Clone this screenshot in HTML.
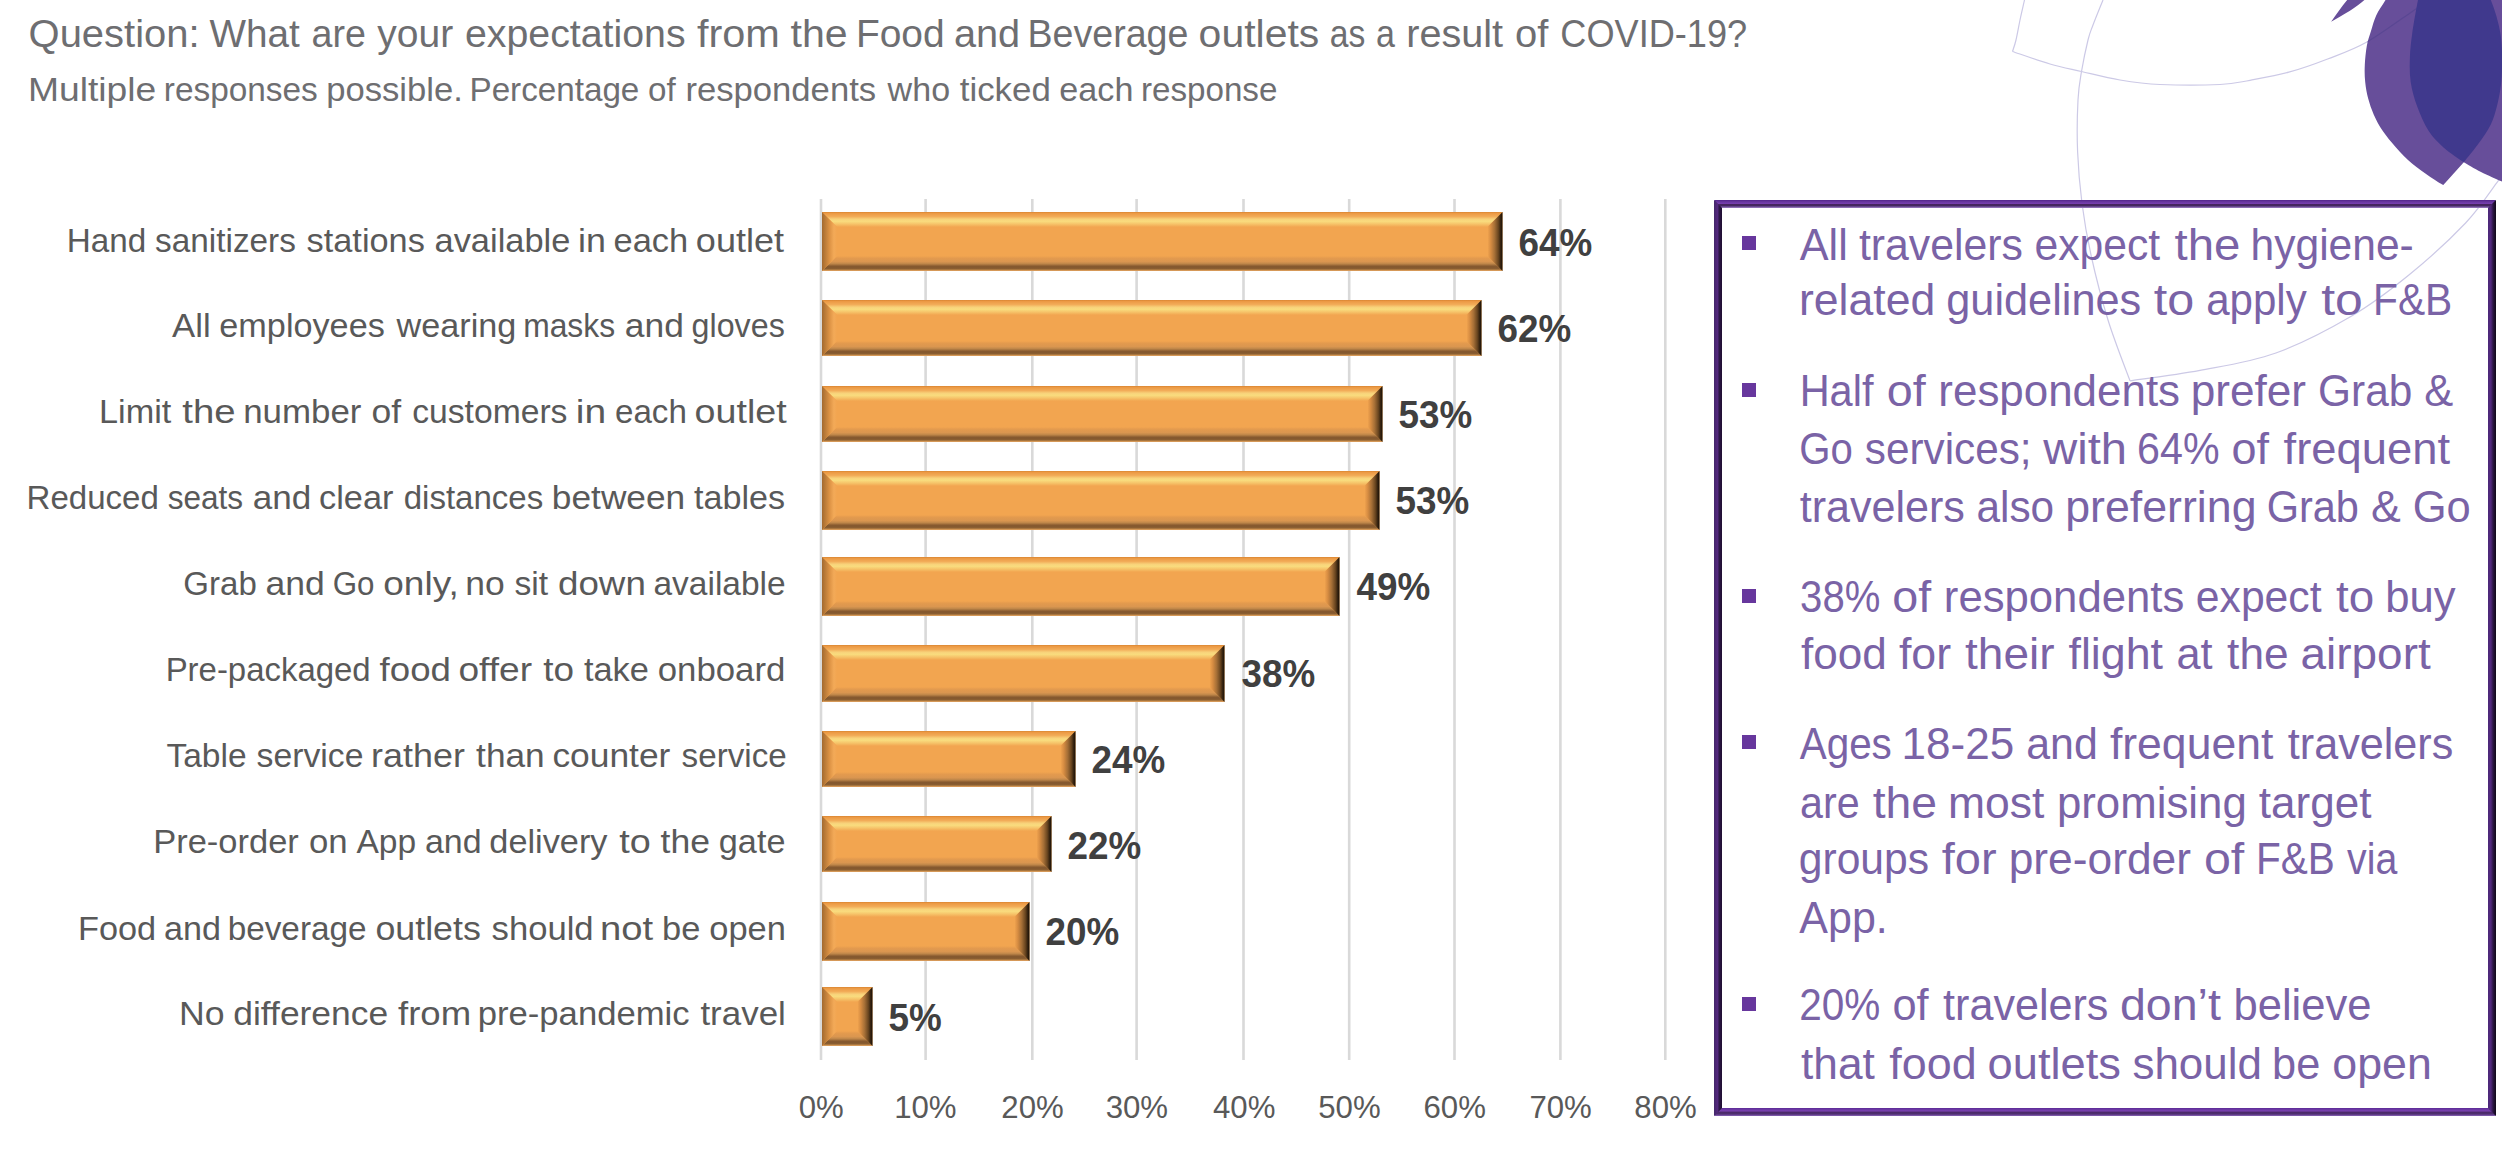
<!DOCTYPE html>
<html><head><meta charset="utf-8"><title>F&amp;B expectations</title>
<style>
html,body{margin:0;padding:0;background:#fff;width:2502px;height:1160px;overflow:hidden}
svg{display:block;font-family:"Liberation Sans",sans-serif}
</style></head><body>
<svg width="2502" height="1160" viewBox="0 0 2502 1160">
<defs>
<linearGradient id="gTop" x1="0" y1="0" x2="0" y2="1">
 <stop offset="0" stop-color="#D98632"/><stop offset="0.1" stop-color="#EC9A45"/><stop offset="0.3" stop-color="#F2AC58"/>
 <stop offset="0.48" stop-color="#F8D27A"/><stop offset="0.62" stop-color="#F9DC7E"/><stop offset="0.8" stop-color="#F6C46A"/><stop offset="1" stop-color="#F2A550"/></linearGradient>
<linearGradient id="gBot" x1="0" y1="1" x2="0" y2="0">
 <stop offset="0" stop-color="#F0AD68"/><stop offset="0.08" stop-color="#B07C42"/><stop offset="0.18" stop-color="#84592F"/>
 <stop offset="0.32" stop-color="#86592F"/><stop offset="0.48" stop-color="#BE8649"/><stop offset="0.62" stop-color="#DA9650"/><stop offset="0.85" stop-color="#E39A4E"/><stop offset="1" stop-color="#F2A550"/></linearGradient>
<linearGradient id="gLeft" x1="0" y1="0" x2="1" y2="0">
 <stop offset="0" stop-color="#A36A30"/><stop offset="0.2" stop-color="#B97A38"/><stop offset="0.5" stop-color="#DC9244"/>
 <stop offset="0.8" stop-color="#F3AA58"/><stop offset="1" stop-color="#F2A550"/></linearGradient>
<linearGradient id="gRight" x1="1" y1="0" x2="0" y2="0">
 <stop offset="0" stop-color="#1E1206"/><stop offset="0.1" stop-color="#2C1C0C"/><stop offset="0.28" stop-color="#6A4620"/>
 <stop offset="0.52" stop-color="#A46E36"/><stop offset="0.78" stop-color="#D68C42"/><stop offset="1" stop-color="#F2A550"/></linearGradient>
<linearGradient id="fTop" x1="0" y1="0" x2="0" y2="1">
 <stop offset="0" stop-color="#52248A"/><stop offset="0.25" stop-color="#6A38A0"/><stop offset="0.45" stop-color="#763DAE"/>
 <stop offset="0.57" stop-color="#42235A"/><stop offset="0.7" stop-color="#45285F"/><stop offset="0.85" stop-color="#6E4E98"/><stop offset="1" stop-color="#A585C8"/></linearGradient>
<linearGradient id="fBot" x1="0" y1="0" x2="0" y2="1">
 <stop offset="0" stop-color="#5C2C96"/><stop offset="0.35" stop-color="#7840AE"/><stop offset="0.6" stop-color="#44265E"/>
 <stop offset="0.8" stop-color="#5A3880"/><stop offset="1" stop-color="#8A64B8"/></linearGradient>
<linearGradient id="fLeft" x1="0" y1="0" x2="1" y2="0">
 <stop offset="0" stop-color="#44286A"/><stop offset="0.45" stop-color="#54297E"/><stop offset="0.65" stop-color="#2E1848"/>
 <stop offset="1" stop-color="#1E0E30"/></linearGradient>
<linearGradient id="fRight" x1="0" y1="0" x2="1" y2="0">
 <stop offset="0" stop-color="#4A2878"/><stop offset="0.35" stop-color="#52297E"/><stop offset="0.65" stop-color="#2A1540"/>
 <stop offset="1" stop-color="#100818"/></linearGradient>
</defs>
<rect width="2502" height="1160" fill="#fff"/>

<path d="M2024.5,0.0 C2023.8,3.3 2021.4,13.3 2020.0,20.0 C2018.6,26.7 2017.2,34.8 2016.0,40.0 C2014.8,45.2 2013.1,49.6 2012.5,51.5" stroke="#CCC9E6" stroke-width="1.2" fill="none"/>
<path d="M2012.5,51.5 C2018.8,53.6 2038.5,60.7 2050.0,64.0 C2061.5,67.3 2069.8,68.8 2081.5,71.5 C2093.2,74.2 2106.9,77.8 2120.0,80.0 C2133.1,82.2 2143.3,83.8 2160.0,84.5 C2176.7,85.2 2205.0,85.2 2220.0,84.5 C2235.0,83.8 2238.5,82.3 2250.0,80.3 C2261.5,78.2 2275.9,75.8 2288.8,72.2 C2301.7,68.7 2314.7,64.0 2327.6,59.0 C2340.5,54.0 2352.2,50.3 2366.4,42.3 C2380.6,34.3 2402.4,18.1 2413.0,10.9 C2423.6,3.7 2427.2,1.0 2430.0,-1.0" stroke="#CCC9E6" stroke-width="1.2" fill="none"/>
<path d="M2103.0,0.0 C2101.3,4.2 2095.5,18.3 2093.0,25.0 C2090.5,31.7 2089.9,32.2 2088.0,40.0 C2086.1,47.8 2083.2,61.5 2081.5,71.5 C2079.8,81.5 2078.7,86.6 2078.0,100.0 C2077.3,113.4 2076.9,134.6 2077.6,151.8 C2078.3,169.1 2079.8,186.3 2082.0,203.5 C2084.2,220.7 2086.7,235.6 2091.0,255.0 C2095.3,274.4 2101.5,299.0 2108.0,320.0 C2114.5,341.0 2126.3,370.7 2130.0,380.8" stroke="#CCC9E6" stroke-width="1.2" fill="none"/>
<path d="M2130.0,380.8 C2141.7,379.1 2175.7,375.0 2200.0,370.4 C2224.3,365.8 2250.6,362.1 2275.9,353.0 C2301.2,343.9 2329.6,328.9 2351.7,316.0 C2373.8,303.1 2389.6,290.8 2408.6,275.3 C2427.6,259.8 2450.7,238.7 2465.6,223.0 C2480.5,207.3 2491.4,189.7 2497.8,181.4 C2504.2,173.1 2503.0,174.4 2504.0,173.0" stroke="#CCC9E6" stroke-width="1.2" fill="none"/>
<path d="M2395.0,-16.0 C2393.4,-13.3 2388.6,-5.2 2385.5,0.0 C2382.4,5.2 2378.6,10.3 2376.2,15.5 C2373.8,20.7 2372.6,25.9 2371.0,31.0 C2369.4,36.1 2367.8,40.3 2366.8,46.0 C2365.8,51.7 2365.1,59.0 2364.8,65.0 C2364.5,71.0 2364.6,76.4 2365.2,81.9 C2365.8,87.5 2366.7,92.8 2368.1,98.3 C2369.5,103.8 2371.4,109.2 2373.8,114.7 C2376.2,120.2 2379.1,125.5 2382.8,131.0 C2386.5,136.4 2391.1,141.9 2396.0,147.4 C2400.9,152.9 2406.6,158.9 2412.3,163.8 C2418.0,168.7 2425.1,173.4 2430.3,176.9 C2435.5,180.4 2441.1,183.7 2443.3,185.0 L2463.8,162.2 C2466.7,163.8 2474.5,168.7 2481.0,172.0 C2487.5,175.3 2499.3,180.3 2503.0,182.0 L2503,-16 Z" fill="#674E9A"/>
<clipPath id="lpc"><path d="M2395.0,-16.0 C2393.4,-13.3 2388.6,-5.2 2385.5,0.0 C2382.4,5.2 2378.6,10.3 2376.2,15.5 C2373.8,20.7 2372.6,25.9 2371.0,31.0 C2369.4,36.1 2367.8,40.3 2366.8,46.0 C2365.8,51.7 2365.1,59.0 2364.8,65.0 C2364.5,71.0 2364.6,76.4 2365.2,81.9 C2365.8,87.5 2366.7,92.8 2368.1,98.3 C2369.5,103.8 2371.4,109.2 2373.8,114.7 C2376.2,120.2 2379.1,125.5 2382.8,131.0 C2386.5,136.4 2391.1,141.9 2396.0,147.4 C2400.9,152.9 2406.6,158.9 2412.3,163.8 C2418.0,168.7 2425.1,173.4 2430.3,176.9 C2435.5,180.4 2441.1,183.7 2443.3,185.0 L2463.8,162.2 C2466.7,163.8 2474.5,168.7 2481.0,172.0 C2487.5,175.3 2499.3,180.3 2503.0,182.0 L2503,-16 Z"/></clipPath>
<path d="M2012.5,51.5 C2018.8,53.6 2038.5,60.7 2050.0,64.0 C2061.5,67.3 2069.8,68.8 2081.5,71.5 C2093.2,74.2 2106.9,77.8 2120.0,80.0 C2133.1,82.2 2143.3,83.8 2160.0,84.5 C2176.7,85.2 2205.0,85.2 2220.0,84.5 C2235.0,83.8 2238.5,82.3 2250.0,80.3 C2261.5,78.2 2275.9,75.8 2288.8,72.2 C2301.7,68.7 2314.7,64.0 2327.6,59.0 C2340.5,54.0 2352.2,50.3 2366.4,42.3 C2380.6,34.3 2402.4,18.1 2413.0,10.9 C2423.6,3.7 2427.2,1.0 2430.0,-1.0" stroke="#5A4793" stroke-width="1.2" fill="none" clip-path="url(#lpc)"/>
<path d="M2422.0,-16.4 C2421.3,-13.7 2419.6,-8.2 2418.0,0.0 C2416.4,8.2 2413.7,23.2 2412.3,32.8 C2411.0,42.3 2410.2,49.1 2409.9,57.3 C2409.6,65.5 2409.5,73.7 2410.7,81.9 C2411.9,90.1 2414.2,98.3 2417.2,106.5 C2420.2,114.7 2424.3,124.2 2428.7,131.0 C2433.1,137.8 2437.7,142.2 2443.5,147.4 C2449.3,152.6 2460.4,159.7 2463.8,162.2 C2466.4,158.9 2474.8,148.8 2479.3,142.5 C2483.8,136.2 2487.8,130.8 2490.8,124.5 C2493.8,118.2 2495.6,111.3 2497.3,104.8 C2499.0,98.2 2500.1,91.2 2500.9,85.2 C2501.7,79.2 2501.8,74.8 2502.0,68.8 C2502.2,62.8 2502.2,55.1 2501.9,49.1 C2501.6,43.1 2501.2,38.2 2500.3,32.8 C2499.4,27.3 2498.1,21.9 2496.5,16.4 C2494.9,10.9 2493.1,5.5 2490.8,0.0 C2488.6,-5.5 2484.3,-13.7 2483.0,-16.4 Z" fill="#40398D"/>
<path d="M2331.1,21.8 C2336.5,14 2342,6 2348,-1 L2365.5,-1 C2357,7 2345,14 2331.1,21.8 Z" fill="#674E9A"/>

<rect x="819.70" y="199" width="2.6" height="861" fill="#D9D9D9"/><rect x="924.30" y="199" width="2.6" height="861" fill="#D9D9D9"/><rect x="1031.00" y="199" width="2.6" height="861" fill="#D9D9D9"/><rect x="1135.30" y="199" width="2.6" height="861" fill="#D9D9D9"/><rect x="1242.20" y="199" width="2.6" height="861" fill="#D9D9D9"/><rect x="1347.90" y="199" width="2.6" height="861" fill="#D9D9D9"/><rect x="1453.20" y="199" width="2.6" height="861" fill="#D9D9D9"/><rect x="1559.10" y="199" width="2.6" height="861" fill="#D9D9D9"/><rect x="1664.00" y="199" width="2.6" height="861" fill="#D9D9D9"/>
<g>
<rect x="822" y="212" width="680.5" height="59" fill="#F2A550"/>
<polygon points="822,212 1502.5,212 1487.5,227 837,227" fill="url(#gTop)"/>
<polygon points="822,271 1502.5,271 1487.5,256 837,256" fill="url(#gBot)"/>
<polygon points="822,212 837,227 837,256 822,271" fill="url(#gLeft)"/>
<polygon points="1502.5,212 1487.5,227 1487.5,256 1502.5,271" fill="url(#gRight)"/>
</g><g>
<rect x="822" y="300" width="659.5" height="56" fill="#F2A550"/>
<polygon points="822,300 1481.5,300 1466.5,315 837,315" fill="url(#gTop)"/>
<polygon points="822,356 1481.5,356 1466.5,341 837,341" fill="url(#gBot)"/>
<polygon points="822,300 837,315 837,341 822,356" fill="url(#gLeft)"/>
<polygon points="1481.5,300 1466.5,315 1466.5,341 1481.5,356" fill="url(#gRight)"/>
</g><g>
<rect x="822" y="386" width="560.5" height="56" fill="#F2A550"/>
<polygon points="822,386 1382.5,386 1367.5,401 837,401" fill="url(#gTop)"/>
<polygon points="822,442 1382.5,442 1367.5,427 837,427" fill="url(#gBot)"/>
<polygon points="822,386 837,401 837,427 822,442" fill="url(#gLeft)"/>
<polygon points="1382.5,386 1367.5,401 1367.5,427 1382.5,442" fill="url(#gRight)"/>
</g><g>
<rect x="822" y="471" width="557.5" height="59" fill="#F2A550"/>
<polygon points="822,471 1379.5,471 1364.5,486 837,486" fill="url(#gTop)"/>
<polygon points="822,530 1379.5,530 1364.5,515 837,515" fill="url(#gBot)"/>
<polygon points="822,471 837,486 837,515 822,530" fill="url(#gLeft)"/>
<polygon points="1379.5,471 1364.5,486 1364.5,515 1379.5,530" fill="url(#gRight)"/>
</g><g>
<rect x="822" y="557" width="517.5" height="59" fill="#F2A550"/>
<polygon points="822,557 1339.5,557 1324.5,572 837,572" fill="url(#gTop)"/>
<polygon points="822,616 1339.5,616 1324.5,601 837,601" fill="url(#gBot)"/>
<polygon points="822,557 837,572 837,601 822,616" fill="url(#gLeft)"/>
<polygon points="1339.5,557 1324.5,572 1324.5,601 1339.5,616" fill="url(#gRight)"/>
</g><g>
<rect x="822" y="645" width="402.5" height="57" fill="#F2A550"/>
<polygon points="822,645 1224.5,645 1209.5,660 837,660" fill="url(#gTop)"/>
<polygon points="822,702 1224.5,702 1209.5,687 837,687" fill="url(#gBot)"/>
<polygon points="822,645 837,660 837,687 822,702" fill="url(#gLeft)"/>
<polygon points="1224.5,645 1209.5,660 1209.5,687 1224.5,702" fill="url(#gRight)"/>
</g><g>
<rect x="822" y="731" width="253.5" height="56" fill="#F2A550"/>
<polygon points="822,731 1075.5,731 1060.5,746 837,746" fill="url(#gTop)"/>
<polygon points="822,787 1075.5,787 1060.5,772 837,772" fill="url(#gBot)"/>
<polygon points="822,731 837,746 837,772 822,787" fill="url(#gLeft)"/>
<polygon points="1075.5,731 1060.5,746 1060.5,772 1075.5,787" fill="url(#gRight)"/>
</g><g>
<rect x="822" y="816" width="229.5" height="56" fill="#F2A550"/>
<polygon points="822,816 1051.5,816 1036.5,831 837,831" fill="url(#gTop)"/>
<polygon points="822,872 1051.5,872 1036.5,857 837,857" fill="url(#gBot)"/>
<polygon points="822,816 837,831 837,857 822,872" fill="url(#gLeft)"/>
<polygon points="1051.5,816 1036.5,831 1036.5,857 1051.5,872" fill="url(#gRight)"/>
</g><g>
<rect x="822" y="902" width="207.5" height="59" fill="#F2A550"/>
<polygon points="822,902 1029.5,902 1014.5,917 837,917" fill="url(#gTop)"/>
<polygon points="822,961 1029.5,961 1014.5,946 837,946" fill="url(#gBot)"/>
<polygon points="822,902 837,917 837,946 822,961" fill="url(#gLeft)"/>
<polygon points="1029.5,902 1014.5,917 1014.5,946 1029.5,961" fill="url(#gRight)"/>
</g><g>
<rect x="822" y="987" width="50.5" height="59" fill="#F2A550"/>
<polygon points="822,987 872.5,987 857.5,1002 837,1002" fill="url(#gTop)"/>
<polygon points="822,1046 872.5,1046 857.5,1031 837,1031" fill="url(#gBot)"/>
<polygon points="822,987 837,1002 837,1031 822,1046" fill="url(#gLeft)"/>
<polygon points="872.5,987 857.5,1002 857.5,1031 872.5,1046" fill="url(#gRight)"/>
</g>

<rect x="1718" y="204" width="774" height="908" fill="none" stroke="#4A2870" stroke-width="7"/>
<polygon points="1714,200 2496,200 2488,208 1722,208" fill="url(#fTop)"/>
<polygon points="1714,1116 2496,1116 2488,1108 1722,1108" fill="url(#fBot)"/>
<polygon points="1714,200 1722,208 1722,1108 1714,1116" fill="url(#fLeft)"/>
<polygon points="2496,200 2488,208 2488,1108 2496,1116" fill="url(#fRight)"/>

<rect x="1742" y="236" width="14" height="14" fill="#67379D"/><rect x="1742" y="383" width="14" height="14" fill="#67379D"/><rect x="1742" y="589" width="14" height="14" fill="#67379D"/><rect x="1742" y="735" width="14" height="14" fill="#67379D"/><rect x="1742" y="997" width="14" height="14" fill="#67379D"/>
<text x="28.55" y="47.00" font-size="38" font-weight="400" fill="#6E6E71" textLength="171.04" lengthAdjust="spacingAndGlyphs">Question:</text>
<text x="209.40" y="47.00" font-size="38" font-weight="400" fill="#6E6E71" textLength="90.25" lengthAdjust="spacingAndGlyphs">What</text>
<text x="311.61" y="47.00" font-size="38" font-weight="400" fill="#6E6E71" textLength="54.31" lengthAdjust="spacingAndGlyphs">are</text>
<text x="377.30" y="47.00" font-size="38" font-weight="400" fill="#6E6E71" textLength="75.85" lengthAdjust="spacingAndGlyphs">your</text>
<text x="464.97" y="47.00" font-size="38" font-weight="400" fill="#6E6E71" textLength="220.57" lengthAdjust="spacingAndGlyphs">expectations</text>
<text x="697.00" y="47.00" font-size="38" font-weight="400" fill="#6E6E71" textLength="82.90" lengthAdjust="spacingAndGlyphs">from</text>
<text x="790.60" y="47.00" font-size="38" font-weight="400" fill="#6E6E71" textLength="57.13" lengthAdjust="spacingAndGlyphs">the</text>
<text x="855.93" y="47.00" font-size="38" font-weight="400" fill="#6E6E71" textLength="88.76" lengthAdjust="spacingAndGlyphs">Food</text>
<text x="953.95" y="47.00" font-size="38" font-weight="400" fill="#6E6E71" textLength="66.28" lengthAdjust="spacingAndGlyphs">and</text>
<text x="1027.53" y="47.00" font-size="38" font-weight="400" fill="#6E6E71" textLength="160.79" lengthAdjust="spacingAndGlyphs">Beverage</text>
<text x="1198.62" y="47.00" font-size="38" font-weight="400" fill="#6E6E71" textLength="120.66" lengthAdjust="spacingAndGlyphs">outlets</text>
<text x="1329.81" y="47.00" font-size="38" font-weight="400" fill="#6E6E71" textLength="35.57" lengthAdjust="spacingAndGlyphs">as</text>
<text x="1376.10" y="47.00" font-size="38" font-weight="400" fill="#6E6E71" textLength="18.92" lengthAdjust="spacingAndGlyphs">a</text>
<text x="1406.22" y="47.00" font-size="38" font-weight="400" fill="#6E6E71" textLength="96.82" lengthAdjust="spacingAndGlyphs">result</text>
<text x="1514.95" y="47.00" font-size="38" font-weight="400" fill="#6E6E71" textLength="33.39" lengthAdjust="spacingAndGlyphs">of</text>
<text x="1560.35" y="47.00" font-size="38" font-weight="400" fill="#6E6E71" textLength="186.73" lengthAdjust="spacingAndGlyphs">COVID-19?</text>
<text x="27.94" y="101.00" font-size="33" font-weight="400" fill="#6E6E71" textLength="128.39" lengthAdjust="spacingAndGlyphs">Multiple</text>
<text x="163.78" y="101.00" font-size="33" font-weight="400" fill="#6E6E71" textLength="154.03" lengthAdjust="spacingAndGlyphs">responses</text>
<text x="326.20" y="101.00" font-size="33" font-weight="400" fill="#6E6E71" textLength="136.57" lengthAdjust="spacingAndGlyphs">possible.</text>
<text x="469.49" y="101.00" font-size="33" font-weight="400" fill="#6E6E71" textLength="169.87" lengthAdjust="spacingAndGlyphs">Percentage</text>
<text x="647.99" y="101.00" font-size="33" font-weight="400" fill="#6E6E71" textLength="27.67" lengthAdjust="spacingAndGlyphs">of</text>
<text x="685.40" y="101.00" font-size="33" font-weight="400" fill="#6E6E71" textLength="190.73" lengthAdjust="spacingAndGlyphs">respondents</text>
<text x="887.63" y="101.00" font-size="33" font-weight="400" fill="#6E6E71" textLength="62.46" lengthAdjust="spacingAndGlyphs">who</text>
<text x="959.70" y="101.00" font-size="33" font-weight="400" fill="#6E6E71" textLength="91.13" lengthAdjust="spacingAndGlyphs">ticked</text>
<text x="1059.37" y="101.00" font-size="33" font-weight="400" fill="#6E6E71" textLength="74.03" lengthAdjust="spacingAndGlyphs">each</text>
<text x="1140.99" y="101.00" font-size="33" font-weight="400" fill="#6E6E71" textLength="136.37" lengthAdjust="spacingAndGlyphs">response</text>
<text x="66.75" y="251.50" font-size="32.5" font-weight="400" fill="#595959" textLength="79.47" lengthAdjust="spacingAndGlyphs">Hand</text>
<text x="155.10" y="251.50" font-size="32.5" font-weight="400" fill="#595959" textLength="140.76" lengthAdjust="spacingAndGlyphs">sanitizers</text>
<text x="306.60" y="251.50" font-size="32.5" font-weight="400" fill="#595959" textLength="118.26" lengthAdjust="spacingAndGlyphs">stations</text>
<text x="434.54" y="251.50" font-size="32.5" font-weight="400" fill="#595959" textLength="135.80" lengthAdjust="spacingAndGlyphs">available</text>
<text x="577.99" y="251.50" font-size="32.5" font-weight="400" fill="#595959" textLength="27.89" lengthAdjust="spacingAndGlyphs">in</text>
<text x="613.54" y="251.50" font-size="32.5" font-weight="400" fill="#595959" textLength="74.66" lengthAdjust="spacingAndGlyphs">each</text>
<text x="695.89" y="251.50" font-size="32.5" font-weight="400" fill="#595959" textLength="88.24" lengthAdjust="spacingAndGlyphs">outlet</text>
<text x="172.10" y="336.50" font-size="32.5" font-weight="400" fill="#595959" textLength="38.60" lengthAdjust="spacingAndGlyphs">All</text>
<text x="219.35" y="336.50" font-size="32.5" font-weight="400" fill="#595959" textLength="165.42" lengthAdjust="spacingAndGlyphs">employees</text>
<text x="396.55" y="336.50" font-size="32.5" font-weight="400" fill="#595959" textLength="119.73" lengthAdjust="spacingAndGlyphs">wearing</text>
<text x="523.14" y="336.50" font-size="32.5" font-weight="400" fill="#595959" textLength="92.00" lengthAdjust="spacingAndGlyphs">masks</text>
<text x="624.81" y="336.50" font-size="32.5" font-weight="400" fill="#595959" textLength="59.05" lengthAdjust="spacingAndGlyphs">and</text>
<text x="691.61" y="336.50" font-size="32.5" font-weight="400" fill="#595959" textLength="93.14" lengthAdjust="spacingAndGlyphs">gloves</text>
<text x="99.09" y="422.50" font-size="32.5" font-weight="400" fill="#595959" textLength="72.24" lengthAdjust="spacingAndGlyphs">Limit</text>
<text x="182.30" y="422.50" font-size="32.5" font-weight="400" fill="#595959" textLength="53.27" lengthAdjust="spacingAndGlyphs">the</text>
<text x="243.15" y="422.50" font-size="32.5" font-weight="400" fill="#595959" textLength="118.26" lengthAdjust="spacingAndGlyphs">number</text>
<text x="371.51" y="422.50" font-size="32.5" font-weight="400" fill="#595959" textLength="29.63" lengthAdjust="spacingAndGlyphs">of</text>
<text x="412.16" y="422.50" font-size="32.5" font-weight="400" fill="#595959" textLength="155.29" lengthAdjust="spacingAndGlyphs">customers</text>
<text x="575.80" y="422.50" font-size="32.5" font-weight="400" fill="#595959" textLength="30.35" lengthAdjust="spacingAndGlyphs">in</text>
<text x="614.98" y="422.50" font-size="32.5" font-weight="400" fill="#595959" textLength="71.94" lengthAdjust="spacingAndGlyphs">each</text>
<text x="694.64" y="422.50" font-size="32.5" font-weight="400" fill="#595959" textLength="92.09" lengthAdjust="spacingAndGlyphs">outlet</text>
<text x="26.57" y="509.00" font-size="32.5" font-weight="400" fill="#595959" textLength="132.24" lengthAdjust="spacingAndGlyphs">Reduced</text>
<text x="167.70" y="509.00" font-size="32.5" font-weight="400" fill="#595959" textLength="75.44" lengthAdjust="spacingAndGlyphs">seats</text>
<text x="252.82" y="509.00" font-size="32.5" font-weight="400" fill="#595959" textLength="58.52" lengthAdjust="spacingAndGlyphs">and</text>
<text x="319.04" y="509.00" font-size="32.5" font-weight="400" fill="#595959" textLength="74.47" lengthAdjust="spacingAndGlyphs">clear</text>
<text x="403.68" y="509.00" font-size="32.5" font-weight="400" fill="#595959" textLength="139.57" lengthAdjust="spacingAndGlyphs">distances</text>
<text x="551.83" y="509.00" font-size="32.5" font-weight="400" fill="#595959" textLength="133.42" lengthAdjust="spacingAndGlyphs">between</text>
<text x="694.00" y="509.00" font-size="32.5" font-weight="400" fill="#595959" textLength="91.06" lengthAdjust="spacingAndGlyphs">tables</text>
<text x="183.38" y="595.00" font-size="32.5" font-weight="400" fill="#595959" textLength="73.41" lengthAdjust="spacingAndGlyphs">Grab</text>
<text x="265.61" y="595.00" font-size="32.5" font-weight="400" fill="#595959" textLength="59.26" lengthAdjust="spacingAndGlyphs">and</text>
<text x="332.64" y="595.00" font-size="32.5" font-weight="400" fill="#595959" textLength="41.80" lengthAdjust="spacingAndGlyphs">Go</text>
<text x="383.26" y="595.00" font-size="32.5" font-weight="400" fill="#595959" textLength="75.45" lengthAdjust="spacingAndGlyphs">only,</text>
<text x="465.22" y="595.00" font-size="32.5" font-weight="400" fill="#595959" textLength="39.46" lengthAdjust="spacingAndGlyphs">no</text>
<text x="514.50" y="595.00" font-size="32.5" font-weight="400" fill="#595959" textLength="33.63" lengthAdjust="spacingAndGlyphs">sit</text>
<text x="557.97" y="595.00" font-size="32.5" font-weight="400" fill="#595959" textLength="87.88" lengthAdjust="spacingAndGlyphs">down</text>
<text x="653.47" y="595.00" font-size="32.5" font-weight="400" fill="#595959" textLength="132.24" lengthAdjust="spacingAndGlyphs">available</text>
<text x="165.67" y="680.50" font-size="32.5" font-weight="400" fill="#595959" textLength="205.03" lengthAdjust="spacingAndGlyphs">Pre-packaged</text>
<text x="379.60" y="680.50" font-size="32.5" font-weight="400" fill="#595959" textLength="71.34" lengthAdjust="spacingAndGlyphs">food</text>
<text x="458.46" y="680.50" font-size="32.5" font-weight="400" fill="#595959" textLength="73.64" lengthAdjust="spacingAndGlyphs">offer</text>
<text x="543.30" y="680.50" font-size="32.5" font-weight="400" fill="#595959" textLength="30.82" lengthAdjust="spacingAndGlyphs">to</text>
<text x="583.90" y="680.50" font-size="32.5" font-weight="400" fill="#595959" textLength="65.04" lengthAdjust="spacingAndGlyphs">take</text>
<text x="657.73" y="680.50" font-size="32.5" font-weight="400" fill="#595959" textLength="127.69" lengthAdjust="spacingAndGlyphs">onboard</text>
<text x="166.40" y="766.50" font-size="32.5" font-weight="400" fill="#595959" textLength="80.21" lengthAdjust="spacingAndGlyphs">Table</text>
<text x="256.50" y="766.50" font-size="32.5" font-weight="400" fill="#595959" textLength="106.92" lengthAdjust="spacingAndGlyphs">service</text>
<text x="371.09" y="766.50" font-size="32.5" font-weight="400" fill="#595959" textLength="93.81" lengthAdjust="spacingAndGlyphs">rather</text>
<text x="476.10" y="766.50" font-size="32.5" font-weight="400" fill="#595959" textLength="68.65" lengthAdjust="spacingAndGlyphs">than</text>
<text x="552.41" y="766.50" font-size="32.5" font-weight="400" fill="#595959" textLength="118.00" lengthAdjust="spacingAndGlyphs">counter</text>
<text x="681.60" y="766.50" font-size="32.5" font-weight="400" fill="#595959" textLength="105.20" lengthAdjust="spacingAndGlyphs">service</text>
<text x="153.18" y="852.50" font-size="32.5" font-weight="400" fill="#595959" textLength="145.63" lengthAdjust="spacingAndGlyphs">Pre-order</text>
<text x="308.93" y="852.50" font-size="32.5" font-weight="400" fill="#595959" textLength="38.69" lengthAdjust="spacingAndGlyphs">on</text>
<text x="356.40" y="852.50" font-size="32.5" font-weight="400" fill="#595959" textLength="59.71" lengthAdjust="spacingAndGlyphs">App</text>
<text x="424.96" y="852.50" font-size="32.5" font-weight="400" fill="#595959" textLength="56.61" lengthAdjust="spacingAndGlyphs">and</text>
<text x="489.34" y="852.50" font-size="32.5" font-weight="400" fill="#595959" textLength="118.16" lengthAdjust="spacingAndGlyphs">delivery</text>
<text x="619.30" y="852.50" font-size="32.5" font-weight="400" fill="#595959" textLength="31.55" lengthAdjust="spacingAndGlyphs">to</text>
<text x="660.60" y="852.50" font-size="32.5" font-weight="400" fill="#595959" textLength="49.48" lengthAdjust="spacingAndGlyphs">the</text>
<text x="718.85" y="852.50" font-size="32.5" font-weight="400" fill="#595959" textLength="66.58" lengthAdjust="spacingAndGlyphs">gate</text>
<text x="77.99" y="939.50" font-size="32.5" font-weight="400" fill="#595959" textLength="78.20" lengthAdjust="spacingAndGlyphs">Food</text>
<text x="163.95" y="939.50" font-size="32.5" font-weight="400" fill="#595959" textLength="56.93" lengthAdjust="spacingAndGlyphs">and</text>
<text x="227.65" y="939.50" font-size="32.5" font-weight="400" fill="#595959" textLength="138.95" lengthAdjust="spacingAndGlyphs">beverage</text>
<text x="375.40" y="939.50" font-size="32.5" font-weight="400" fill="#595959" textLength="105.48" lengthAdjust="spacingAndGlyphs">outlets</text>
<text x="491.60" y="939.50" font-size="32.5" font-weight="400" fill="#595959" textLength="102.01" lengthAdjust="spacingAndGlyphs">should</text>
<text x="600.05" y="939.50" font-size="32.5" font-weight="400" fill="#595959" textLength="53.19" lengthAdjust="spacingAndGlyphs">not</text>
<text x="662.08" y="939.50" font-size="32.5" font-weight="400" fill="#595959" textLength="38.36" lengthAdjust="spacingAndGlyphs">be</text>
<text x="709.24" y="939.50" font-size="32.5" font-weight="400" fill="#595959" textLength="76.66" lengthAdjust="spacingAndGlyphs">open</text>
<text x="179.01" y="1024.50" font-size="32.5" font-weight="400" fill="#595959" textLength="45.57" lengthAdjust="spacingAndGlyphs">No</text>
<text x="233.31" y="1024.50" font-size="32.5" font-weight="400" fill="#595959" textLength="154.86" lengthAdjust="spacingAndGlyphs">difference</text>
<text x="398.00" y="1024.50" font-size="32.5" font-weight="400" fill="#595959" textLength="73.13" lengthAdjust="spacingAndGlyphs">from</text>
<text x="477.67" y="1024.50" font-size="32.5" font-weight="400" fill="#595959" textLength="212.00" lengthAdjust="spacingAndGlyphs">pre-pandemic</text>
<text x="700.40" y="1024.50" font-size="32.5" font-weight="400" fill="#595959" textLength="85.51" lengthAdjust="spacingAndGlyphs">travel</text>
<text x="1518.53" y="256.00" font-size="38" font-weight="700" fill="#404040" textLength="73.73" lengthAdjust="spacingAndGlyphs">64%</text>
<text x="1497.53" y="342.10" font-size="38" font-weight="700" fill="#404040" textLength="73.73" lengthAdjust="spacingAndGlyphs">62%</text>
<text x="1398.53" y="428.20" font-size="38" font-weight="700" fill="#404040" textLength="73.73" lengthAdjust="spacingAndGlyphs">53%</text>
<text x="1395.53" y="514.30" font-size="38" font-weight="700" fill="#404040" textLength="73.73" lengthAdjust="spacingAndGlyphs">53%</text>
<text x="1356.50" y="600.40" font-size="38" font-weight="700" fill="#404040" textLength="73.73" lengthAdjust="spacingAndGlyphs">49%</text>
<text x="1241.50" y="686.50" font-size="38" font-weight="700" fill="#404040" textLength="73.73" lengthAdjust="spacingAndGlyphs">38%</text>
<text x="1091.53" y="772.60" font-size="38" font-weight="700" fill="#404040" textLength="73.73" lengthAdjust="spacingAndGlyphs">24%</text>
<text x="1067.53" y="858.70" font-size="38" font-weight="700" fill="#404040" textLength="73.73" lengthAdjust="spacingAndGlyphs">22%</text>
<text x="1045.53" y="944.80" font-size="38" font-weight="700" fill="#404040" textLength="73.73" lengthAdjust="spacingAndGlyphs">20%</text>
<text x="888.53" y="1030.90" font-size="38" font-weight="700" fill="#404040" textLength="53.24" lengthAdjust="spacingAndGlyphs">5%</text>
<text x="798.71" y="1118.00" font-size="32" font-weight="400" fill="#595959" textLength="45.05" lengthAdjust="spacingAndGlyphs">0%</text>
<text x="894.15" y="1118.00" font-size="32" font-weight="400" fill="#595959" textLength="62.39" lengthAdjust="spacingAndGlyphs">10%</text>
<text x="1001.34" y="1118.00" font-size="32" font-weight="400" fill="#595959" textLength="62.39" lengthAdjust="spacingAndGlyphs">20%</text>
<text x="1105.64" y="1118.00" font-size="32" font-weight="400" fill="#595959" textLength="62.39" lengthAdjust="spacingAndGlyphs">30%</text>
<text x="1213.03" y="1118.00" font-size="32" font-weight="400" fill="#595959" textLength="62.39" lengthAdjust="spacingAndGlyphs">40%</text>
<text x="1318.24" y="1118.00" font-size="32" font-weight="400" fill="#595959" textLength="62.39" lengthAdjust="spacingAndGlyphs">50%</text>
<text x="1423.54" y="1118.00" font-size="32" font-weight="400" fill="#595959" textLength="62.39" lengthAdjust="spacingAndGlyphs">60%</text>
<text x="1529.44" y="1118.00" font-size="32" font-weight="400" fill="#595959" textLength="62.39" lengthAdjust="spacingAndGlyphs">70%</text>
<text x="1634.34" y="1118.00" font-size="32" font-weight="400" fill="#595959" textLength="62.39" lengthAdjust="spacingAndGlyphs">80%</text>
<text x="1799.70" y="260.30" font-size="45" font-weight="400" fill="#7A63A6" textLength="48.08" lengthAdjust="spacingAndGlyphs">All</text>
<text x="1858.90" y="260.30" font-size="45" font-weight="400" fill="#7A63A6" textLength="163.93" lengthAdjust="spacingAndGlyphs">travelers</text>
<text x="2034.45" y="260.30" font-size="45" font-weight="400" fill="#7A63A6" textLength="125.68" lengthAdjust="spacingAndGlyphs">expect</text>
<text x="2174.60" y="260.30" font-size="45" font-weight="400" fill="#7A63A6" textLength="65.88" lengthAdjust="spacingAndGlyphs">the</text>
<text x="2250.56" y="260.30" font-size="45" font-weight="400" fill="#7A63A6" textLength="163.21" lengthAdjust="spacingAndGlyphs">hygiene-</text>
<text x="1799.02" y="315.30" font-size="45" font-weight="400" fill="#7A63A6" textLength="136.19" lengthAdjust="spacingAndGlyphs">related</text>
<text x="1946.24" y="315.30" font-size="45" font-weight="400" fill="#7A63A6" textLength="195.01" lengthAdjust="spacingAndGlyphs">guidelines</text>
<text x="2153.80" y="315.30" font-size="45" font-weight="400" fill="#7A63A6" textLength="40.41" lengthAdjust="spacingAndGlyphs">to</text>
<text x="2206.17" y="315.30" font-size="45" font-weight="400" fill="#7A63A6" textLength="100.57" lengthAdjust="spacingAndGlyphs">apply</text>
<text x="2321.20" y="315.30" font-size="45" font-weight="400" fill="#7A63A6" textLength="41.64" lengthAdjust="spacingAndGlyphs">to</text>
<text x="2372.98" y="315.30" font-size="45" font-weight="400" fill="#7A63A6" textLength="79.35" lengthAdjust="spacingAndGlyphs">F&amp;B</text>
<text x="1799.63" y="406.40" font-size="45" font-weight="400" fill="#7A63A6" textLength="73.81" lengthAdjust="spacingAndGlyphs">Half</text>
<text x="1886.86" y="406.40" font-size="45" font-weight="400" fill="#7A63A6" textLength="38.92" lengthAdjust="spacingAndGlyphs">of</text>
<text x="1938.35" y="406.40" font-size="45" font-weight="400" fill="#7A63A6" textLength="241.72" lengthAdjust="spacingAndGlyphs">respondents</text>
<text x="2190.64" y="406.40" font-size="45" font-weight="400" fill="#7A63A6" textLength="115.35" lengthAdjust="spacingAndGlyphs">prefer</text>
<text x="2318.12" y="406.40" font-size="45" font-weight="400" fill="#7A63A6" textLength="94.15" lengthAdjust="spacingAndGlyphs">Grab</text>
<text x="2424.33" y="406.40" font-size="45" font-weight="400" fill="#7A63A6" textLength="28.98" lengthAdjust="spacingAndGlyphs">&amp;</text>
<text x="1799.22" y="464.30" font-size="45" font-weight="400" fill="#7A63A6" textLength="53.50" lengthAdjust="spacingAndGlyphs">Go</text>
<text x="1864.86" y="464.30" font-size="45" font-weight="400" fill="#7A63A6" textLength="166.73" lengthAdjust="spacingAndGlyphs">services;</text>
<text x="2043.35" y="464.30" font-size="45" font-weight="400" fill="#7A63A6" textLength="83.67" lengthAdjust="spacingAndGlyphs">with</text>
<text x="2137.07" y="464.30" font-size="45" font-weight="400" fill="#7A63A6" textLength="82.46" lengthAdjust="spacingAndGlyphs">64%</text>
<text x="2231.60" y="464.30" font-size="45" font-weight="400" fill="#7A63A6" textLength="37.50" lengthAdjust="spacingAndGlyphs">of</text>
<text x="2283.60" y="464.30" font-size="45" font-weight="400" fill="#7A63A6" textLength="166.40" lengthAdjust="spacingAndGlyphs">frequent</text>
<text x="1799.70" y="521.70" font-size="45" font-weight="400" fill="#7A63A6" textLength="165.24" lengthAdjust="spacingAndGlyphs">travelers</text>
<text x="1976.56" y="521.70" font-size="45" font-weight="400" fill="#7A63A6" textLength="77.61" lengthAdjust="spacingAndGlyphs">also</text>
<text x="2065.21" y="521.70" font-size="45" font-weight="400" fill="#7A63A6" textLength="191.30" lengthAdjust="spacingAndGlyphs">preferring</text>
<text x="2266.66" y="521.70" font-size="45" font-weight="400" fill="#7A63A6" textLength="92.19" lengthAdjust="spacingAndGlyphs">Grab</text>
<text x="2370.91" y="521.70" font-size="45" font-weight="400" fill="#7A63A6" textLength="29.81" lengthAdjust="spacingAndGlyphs">&amp;</text>
<text x="2412.77" y="521.70" font-size="45" font-weight="400" fill="#7A63A6" textLength="58.03" lengthAdjust="spacingAndGlyphs">Go</text>
<text x="1800.11" y="612.20" font-size="45" font-weight="400" fill="#7A63A6" textLength="80.19" lengthAdjust="spacingAndGlyphs">38%</text>
<text x="1892.36" y="612.20" font-size="45" font-weight="400" fill="#7A63A6" textLength="38.92" lengthAdjust="spacingAndGlyphs">of</text>
<text x="1943.86" y="612.20" font-size="45" font-weight="400" fill="#7A63A6" textLength="240.40" lengthAdjust="spacingAndGlyphs">respondents</text>
<text x="2195.85" y="612.20" font-size="45" font-weight="400" fill="#7A63A6" textLength="125.68" lengthAdjust="spacingAndGlyphs">expect</text>
<text x="2336.00" y="612.20" font-size="45" font-weight="400" fill="#7A63A6" textLength="38.14" lengthAdjust="spacingAndGlyphs">to</text>
<text x="2385.16" y="612.20" font-size="45" font-weight="400" fill="#7A63A6" textLength="70.35" lengthAdjust="spacingAndGlyphs">buy</text>
<text x="1801.00" y="668.60" font-size="45" font-weight="400" fill="#7A63A6" textLength="85.89" lengthAdjust="spacingAndGlyphs">food</text>
<text x="1898.90" y="668.60" font-size="45" font-weight="400" fill="#7A63A6" textLength="52.19" lengthAdjust="spacingAndGlyphs">for</text>
<text x="1965.10" y="668.60" font-size="45" font-weight="400" fill="#7A63A6" textLength="89.39" lengthAdjust="spacingAndGlyphs">their</text>
<text x="2068.50" y="668.60" font-size="45" font-weight="400" fill="#7A63A6" textLength="94.51" lengthAdjust="spacingAndGlyphs">flight</text>
<text x="2176.54" y="668.60" font-size="45" font-weight="400" fill="#7A63A6" textLength="36.08" lengthAdjust="spacingAndGlyphs">at</text>
<text x="2227.10" y="668.60" font-size="45" font-weight="400" fill="#7A63A6" textLength="61.51" lengthAdjust="spacingAndGlyphs">the</text>
<text x="2300.58" y="668.60" font-size="45" font-weight="400" fill="#7A63A6" textLength="130.11" lengthAdjust="spacingAndGlyphs">airport</text>
<text x="1799.70" y="759.10" font-size="45" font-weight="400" fill="#7A63A6" textLength="92.15" lengthAdjust="spacingAndGlyphs">Ages</text>
<text x="1901.56" y="759.10" font-size="45" font-weight="400" fill="#7A63A6" textLength="112.64" lengthAdjust="spacingAndGlyphs">18-25</text>
<text x="2026.25" y="759.10" font-size="45" font-weight="400" fill="#7A63A6" textLength="71.59" lengthAdjust="spacingAndGlyphs">and</text>
<text x="2109.90" y="759.10" font-size="45" font-weight="400" fill="#7A63A6" textLength="163.41" lengthAdjust="spacingAndGlyphs">frequent</text>
<text x="2287.80" y="759.10" font-size="45" font-weight="400" fill="#7A63A6" textLength="165.54" lengthAdjust="spacingAndGlyphs">travelers</text>
<text x="1800.08" y="818.30" font-size="45" font-weight="400" fill="#7A63A6" textLength="59.56" lengthAdjust="spacingAndGlyphs">are</text>
<text x="1872.70" y="818.30" font-size="45" font-weight="400" fill="#7A63A6" textLength="64.36" lengthAdjust="spacingAndGlyphs">the</text>
<text x="1948.02" y="818.30" font-size="45" font-weight="400" fill="#7A63A6" textLength="96.39" lengthAdjust="spacingAndGlyphs">most</text>
<text x="2056.95" y="818.30" font-size="45" font-weight="400" fill="#7A63A6" textLength="189.82" lengthAdjust="spacingAndGlyphs">promising</text>
<text x="2258.80" y="818.30" font-size="45" font-weight="400" fill="#7A63A6" textLength="112.61" lengthAdjust="spacingAndGlyphs">target</text>
<text x="1798.75" y="874.10" font-size="45" font-weight="400" fill="#7A63A6" textLength="130.37" lengthAdjust="spacingAndGlyphs">groups</text>
<text x="1941.70" y="874.10" font-size="45" font-weight="400" fill="#7A63A6" textLength="54.88" lengthAdjust="spacingAndGlyphs">for</text>
<text x="2008.63" y="874.10" font-size="45" font-weight="400" fill="#7A63A6" textLength="182.36" lengthAdjust="spacingAndGlyphs">pre-order</text>
<text x="2203.93" y="874.10" font-size="45" font-weight="400" fill="#7A63A6" textLength="40.34" lengthAdjust="spacingAndGlyphs">of</text>
<text x="2256.10" y="874.10" font-size="45" font-weight="400" fill="#7A63A6" textLength="78.82" lengthAdjust="spacingAndGlyphs">F&amp;B</text>
<text x="2347.10" y="874.10" font-size="45" font-weight="400" fill="#7A63A6" textLength="50.15" lengthAdjust="spacingAndGlyphs">via</text>
<text x="1799.30" y="933.40" font-size="45" font-weight="400" fill="#7A63A6" textLength="88.45" lengthAdjust="spacingAndGlyphs">App.</text>
<text x="1799.20" y="1020.30" font-size="45" font-weight="400" fill="#7A63A6" textLength="81.11" lengthAdjust="spacingAndGlyphs">20%</text>
<text x="1892.44" y="1020.30" font-size="45" font-weight="400" fill="#7A63A6" textLength="36.18" lengthAdjust="spacingAndGlyphs">of</text>
<text x="1943.10" y="1020.30" font-size="45" font-weight="400" fill="#7A63A6" textLength="165.34" lengthAdjust="spacingAndGlyphs">travelers</text>
<text x="2119.97" y="1020.30" font-size="45" font-weight="400" fill="#7A63A6" textLength="100.92" lengthAdjust="spacingAndGlyphs">don’t</text>
<text x="2233.46" y="1020.30" font-size="45" font-weight="400" fill="#7A63A6" textLength="138.03" lengthAdjust="spacingAndGlyphs">believe</text>
<text x="1801.00" y="1079.00" font-size="45" font-weight="400" fill="#7A63A6" textLength="73.81" lengthAdjust="spacingAndGlyphs">that</text>
<text x="1889.30" y="1079.00" font-size="45" font-weight="400" fill="#7A63A6" textLength="87.32" lengthAdjust="spacingAndGlyphs">food</text>
<text x="1987.59" y="1079.00" font-size="45" font-weight="400" fill="#7A63A6" textLength="133.31" lengthAdjust="spacingAndGlyphs">outlets</text>
<text x="2132.42" y="1079.00" font-size="45" font-weight="400" fill="#7A63A6" textLength="129.56" lengthAdjust="spacingAndGlyphs">should</text>
<text x="2272.07" y="1079.00" font-size="45" font-weight="400" fill="#7A63A6" textLength="48.22" lengthAdjust="spacingAndGlyphs">be</text>
<text x="2332.31" y="1079.00" font-size="45" font-weight="400" fill="#7A63A6" textLength="99.51" lengthAdjust="spacingAndGlyphs">open</text>
</svg>
</body></html>
